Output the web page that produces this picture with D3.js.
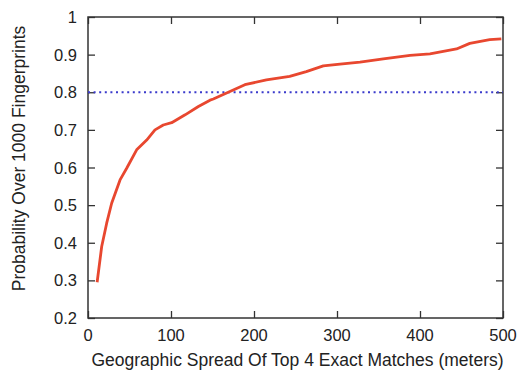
<!DOCTYPE html>
<html>
<head>
<meta charset="utf-8">
<script src="https://cdn.jsdelivr.net/npm/d3@7"></script>
<style>
  body { margin: 0; background: #fff; }
  text { font-family: "Liberation Sans", Arial, sans-serif; fill: #222; }
</style>
</head>
<body>
<svg width="521" height="371"></svg>
<script>
// spread in meters
const spread = [11, 16.5, 22.5, 28.5, 38.6, 46.6, 58.6, 70.7, 80.7, 90.7, 100.8, 117, 133, 147, 151, 171, 189, 215, 243, 263, 283.5, 303.6, 327.7, 355.8, 388, 412, 444, 460, 484, 498];
// probability
const prob = [0.295, 0.39, 0.452, 0.505, 0.567, 0.598, 0.647, 0.673, 0.70, 0.713, 0.719, 0.74, 0.762, 0.779, 0.782, 0.802, 0.82, 0.833, 0.842, 0.855, 0.87, 0.875, 0.88, 0.889, 0.898, 0.902, 0.915, 0.93, 0.94, 0.942];
const seuil = 0.8;
const xTicks = [0, 100, 200, 300, 400, 500];
const yTicks = [0.2, 0.3, 0.4, 0.5, 0.6, 0.7, 0.8, 0.9, 1];

const svg = d3.select("svg");
const gauche = 88, droite = 503, haut = 17, bas = 318;

const x = d3.scaleLinear().domain([0, 500]).range([gauche, droite]);
const y = d3.scaleLinear().domain([0.2, 1]).range([bas, haut]);

// ticks inward on all four sides
svg.append("g")
    .attr("transform", `translate(0,${bas})`)
    .call(d3.axisTop(x).tickValues(xTicks).tickSize(7).tickFormat(""));
svg.append("g")
    .attr("transform", `translate(0,${haut})`)
    .call(d3.axisBottom(x).tickValues(xTicks).tickSize(7).tickFormat(""));
svg.append("g")
    .attr("transform", `translate(${gauche},0)`)
    .call(d3.axisRight(y).tickValues(yTicks).tickSize(7).tickFormat(""));
svg.append("g")
    .attr("transform", `translate(${droite},0)`)
    .call(d3.axisLeft(y).tickValues(yTicks).tickSize(7).tickFormat(""));
svg.selectAll(".domain").remove();
svg.selectAll(".tick line").attr("stroke", "#333").attr("stroke-width", 1.3);

// tick labels
svg.selectAll(".xlab")
    .data(xTicks)
    .join("text")
    .attr("class", "xlab")
    .attr("x", d => x(d))
    .attr("y", 340.5)
    .attr("text-anchor", "middle")
    .style("font-size", "16.5px")
    .text(d => d);

svg.selectAll(".ylab")
    .data(yTicks)
    .join("text")
    .attr("class", "ylab")
    .attr("x", gauche - 11)
    .attr("y", d => y(d) + 6)
    .attr("text-anchor", "end")
    .style("font-size", "16.5px")
    .text(d => d);

// cadre
svg.append("rect")
    .attr("x", gauche).attr("y", haut)
    .attr("width", droite - gauche).attr("height", bas - haut)
    .attr("fill", "none").attr("stroke", "#333").attr("stroke-width", 1.5);

// seuil 0.8
svg.append("line")
    .attr("x1", gauche).attr("x2", droite)
    .attr("y1", y(seuil)).attr("y2", y(seuil))
    .attr("stroke", "#3a3acc")
    .attr("stroke-width", 2.2)
    .attr("stroke-dasharray", "2,3.6");

// courbe
const pts = spread.map((s, i) => [s, prob[i]]);
svg.append("path")
    .datum(pts)
    .attr("fill", "none")
    .attr("stroke", "#e8472f")
    .attr("stroke-width", 2.8)
    .attr("stroke-linejoin", "round")
    .attr("d", d3.line().x(d => x(d[0])).y(d => y(d[1])));

// titres
svg.append("text")
    .attr("x", 297.5)
    .attr("y", 366)
    .attr("text-anchor", "middle")
    .style("font-size", "17.5px")
    .text("Geographic Spread Of Top 4 Exact Matches (meters)");

svg.append("text")
    .attr("transform", `translate(25,158.5) rotate(-90)`)
    .attr("text-anchor", "middle")
    .style("font-size", "17.5px")
    .text("Probability Over 1000 Fingerprints");
</script>
</body>
</html>
